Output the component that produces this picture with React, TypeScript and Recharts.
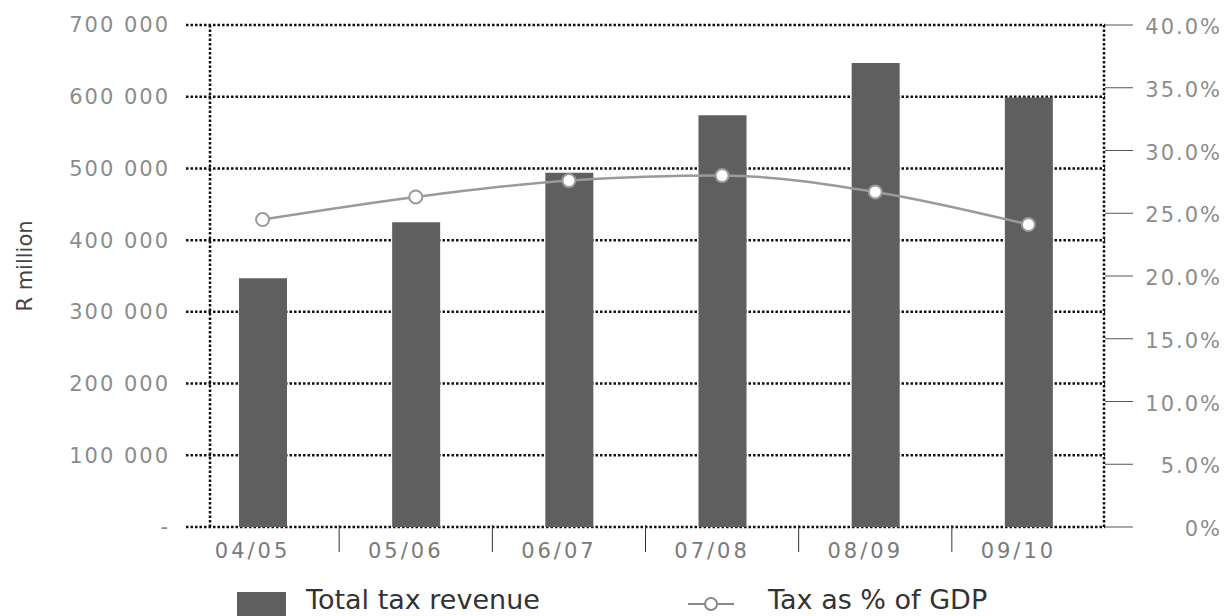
import {
    ComposedChart,
    Bar,
    Line,
    XAxis,
    YAxis,
    CartesianGrid,
    Legend,
} from "recharts";

const years = ["04/05", "05/06", "06/07", "07/08", "08/09", "09/10"];
const taxRevenue = [347000, 425000, 494000, 574000, 647000, 599000];
const taxToGdp = [24.5, 26.3, 27.6, 28.0, 26.7, 24.1];

const revenueTicks = [0, 100000, 200000, 300000, 400000, 500000, 600000, 700000];
const gdpTicks = [0, 5, 10, 15, 20, 25, 30, 35, 40];

const data = years.map((year, i) => ({
    year,
    revenue: taxRevenue[i],
    gdp: taxToGdp[i],
}));

const WIDTH = 1223;
const HEIGHT = 608;
const LEFT_W = 178;
const RIGHT_W = 126;
const BAND = (WIDTH - LEFT_W - RIGHT_W) / years.length;

const FONT = "'DejaVu Sans', sans-serif";
const BAR_COLOR = "#5f5f5f";
const LINE_COLOR = "#9a9a9a";
const GRID = "#111";

const formatRevenue = (v: number) =>
    v === 0 ? "-" : `${v / 1000} 000`;

const formatPct = (v: number) => (v === 0 ? "0%" : `${v.toFixed(1)}%`);

// category label sits a little left of the bar, with a divider at each band edge
function YearTick({ x, y, payload, index }: any) {
    return (
        <g>
            {index > 0 && (
                <line
                    x1={x - BAND / 2}
                    x2={x - BAND / 2}
                    y1={y - 2}
                    y2={y + 25}
                    stroke="#333"
                    strokeWidth={1}
                />
            )}
            <text
                x={x - 10}
                y={y + 31}
                textAnchor="middle"
                fill="#7a7a7a"
                fontSize={21}
                fontFamily={FONT}
                letterSpacing={3}
            >
                {payload.value}
            </text>
        </g>
    );
}

function PctTick({ x, y, payload }: any) {
    return (
        <text
            x={x + 87}
            y={y + 9}
            textAnchor="end"
            fill="#8c8c8c"
            fontSize={21}
            fontFamily={FONT}
            letterSpacing={2}
        >
            {formatPct(payload.value)}
        </text>
    );
}

function AxisTitle({ viewBox }: any) {
    const cx = viewBox.x + 17;
    const cy = viewBox.y + viewBox.height / 2 - 10;
    return (
        <text
            x={cx}
            y={cy}
            transform={`rotate(-90 ${cx} ${cy})`}
            textAnchor="middle"
            dominantBaseline="central"
            fill="#444"
            fontSize={21}
            fontFamily={FONT}
        >
            R million
        </text>
    );
}

function ChartLegend() {
    return (
        <div
            style={{
                position: "relative",
                height: 46,
                width: WIDTH,
                fontFamily: FONT,
                fontSize: 27,
                color: "#333",
            }}
        >
            <div
                style={{
                    position: "absolute",
                    left: 229,
                    top: 22,
                    width: 49,
                    height: 24,
                    background: BAR_COLOR,
                }}
            />
            <span
                style={{
                    position: "absolute",
                    left: 298,
                    top: 13,
                    lineHeight: "34px",
                    whiteSpace: "nowrap",
                }}
            >
                Total tax revenue
            </span>
            <svg
                width={48}
                height={20}
                style={{ position: "absolute", left: 679, top: 24 }}
            >
                <line x1={1} x2={47} y1={10} y2={10} stroke="#888" strokeWidth={2} />
                <circle cx={24} cy={10} r={6} fill="#fff" stroke="#888" strokeWidth={2} />
            </svg>
            <span
                style={{
                    position: "absolute",
                    left: 760,
                    top: 13,
                    lineHeight: "34px",
                    whiteSpace: "nowrap",
                }}
            >
                Tax as % of GDP
            </span>
        </div>
    );
}

export default function App() {
    return (
        <div style={{ width: WIDTH, height: HEIGHT, background: "#fff" }}>
            <ComposedChart
                width={WIDTH}
                height={HEIGHT}
                data={data}
                margin={{ top: 17, right: 0, bottom: 0, left: 0 }}
            >
                <CartesianGrid
                    stroke={GRID}
                    strokeWidth={2.5}
                    strokeDasharray="2.5 2"
                    verticalCoordinatesGenerator={({ offset }: any) => [
                        offset.left + 24,
                        offset.left + offset.width - 1,
                    ]}
                />

                <XAxis
                    dataKey="year"
                    height={43}
                    axisLine={false}
                    tickLine={false}
                    tickSize={0}
                    tickMargin={0}
                    interval={0}
                    tick={<YearTick />}
                />

                <YAxis
                    width={LEFT_W}
                    domain={[0, 700000]}
                    ticks={revenueTicks}
                    interval={0}
                    axisLine={false}
                    tickLine={false}
                    tickSize={0}
                    tickMargin={16}
                    tickFormatter={formatRevenue}
                    tick={{
                        fill: "#8c8c8c",
                        fontSize: 21,
                        fontFamily: FONT,
                        letterSpacing: 2,
                    }}
                    label={<AxisTitle />}
                />

                <YAxis
                    yAxisId="pct"
                    orientation="right"
                    width={RIGHT_W}
                    domain={[0, 40]}
                    ticks={gdpTicks}
                    interval={0}
                    axisLine={false}
                    tickSize={28}
                    tickLine={{ stroke: "#555", strokeWidth: 1 }}
                    tick={<PctTick />}
                />

                <Legend
                    verticalAlign="bottom"
                    content={<ChartLegend />}
                />

                <Bar
                    dataKey="revenue"
                    name="Total tax revenue"
                    fill={BAR_COLOR}
                    barSize={48}
                    isAnimationActive={false}
                />

                <Line
                    yAxisId="pct"
                    dataKey="gdp"
                    name="Tax as % of GDP"
                    type="monotone"
                    stroke={LINE_COLOR}
                    strokeWidth={2.5}
                    dot={{
                        r: 6.5,
                        fill: "#fff",
                        stroke: LINE_COLOR,
                        strokeWidth: 2,
                    }}
                    isAnimationActive={false}
                />
            </ComposedChart>
        </div>
    );
}
